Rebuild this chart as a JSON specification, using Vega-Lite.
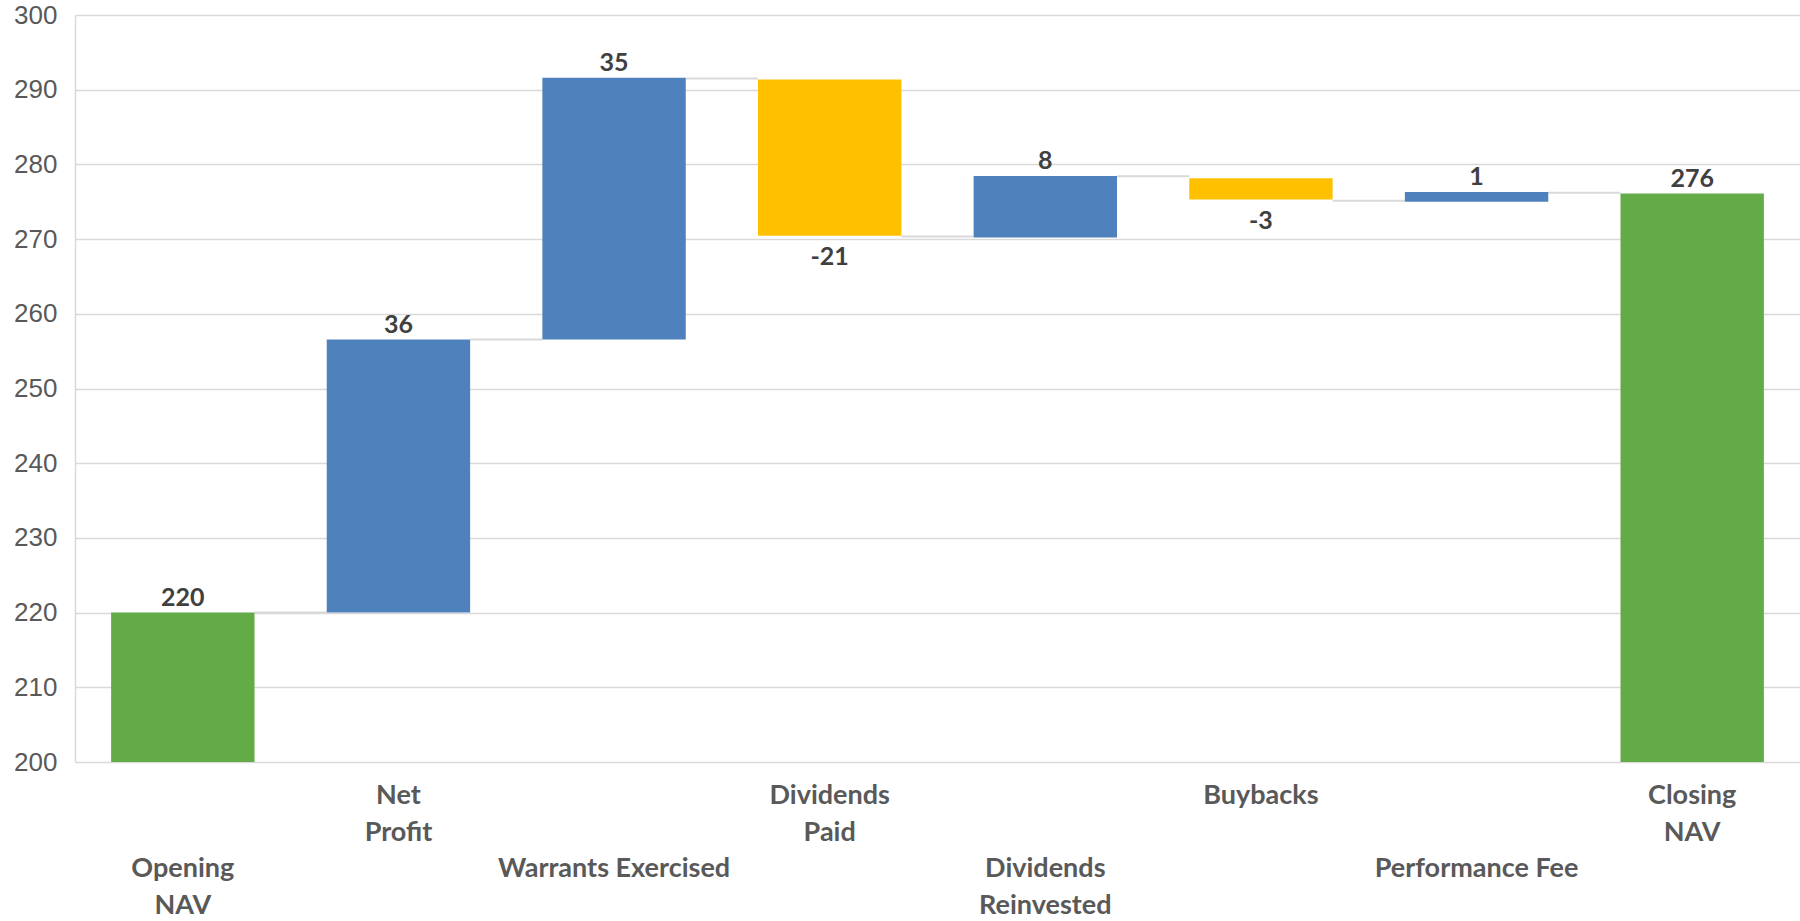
{
  "$schema": "https://vega.github.io/schema/vega-lite/v6.json",
  "width": 1725,
  "height": 747,
  "autosize": {"type": "none"},
  "padding": {"left": 75, "top": 15, "right": 0, "bottom": 159},
  "background": "white",
  "config": {"view": {"stroke": null}},
  "datasets": {
    "bars": [
      {"cat": "Opening NAV", "start": 0, "end": 220, "label": "220", "type": "total"},
      {"cat": "Net Profit", "start": 220, "end": 256.55, "label": "36", "type": "increase"},
      {"cat": "Warrants Exercised", "start": 256.55, "end": 291.6, "label": "35", "type": "increase"},
      {"cat": "Dividends Paid", "start": 291.35, "end": 270.45, "label": "-21", "type": "decrease"},
      {"cat": "Dividends Reinvested", "start": 270.2, "end": 278.45, "label": "8", "type": "increase"},
      {"cat": "Buybacks", "start": 278.15, "end": 275.3, "label": "-3", "type": "decrease"},
      {"cat": "Performance Fee", "start": 275.0, "end": 276.3, "label": "1", "type": "increase"},
      {"cat": "Closing NAV", "start": 0, "end": 276.1, "label": "276", "type": "total"}
    ],
    "links": [
      {"from": "Opening NAV", "to": "Net Profit", "level": 220},
      {"from": "Net Profit", "to": "Warrants Exercised", "level": 256.55},
      {"from": "Warrants Exercised", "to": "Dividends Paid", "level": 291.5},
      {"from": "Dividends Paid", "to": "Dividends Reinvested", "level": 270.35},
      {"from": "Dividends Reinvested", "to": "Buybacks", "level": 278.4},
      {"from": "Buybacks", "to": "Performance Fee", "level": 275.15},
      {"from": "Performance Fee", "to": "Closing NAV", "level": 276.2}
    ]
  },
  "layer": [
    {
      "data": {"name": "links"},
      "mark": {"type": "rule", "color": "#D9D9D9", "strokeWidth": 2},
      "encoding": {
        "x": {"field": "from", "type": "nominal", "bandPosition": 1,
          "scale": {"domain": ["Opening NAV", "Net Profit", "Warrants Exercised", "Dividends Paid", "Dividends Reinvested", "Buybacks", "Performance Fee", "Closing NAV"], "paddingInner": 0.335, "paddingOuter": 0.1675},
          "axis": {
            "title": null, "domain": false, "ticks": false, "labelAngle": 0,
            "labelOverlap": false, "labelBound": false, "labelFlush": false, "labelLimit": 500,
            "labelPadding": {"condition": {"test": "indexof(['Opening NAV', 'Warrants Exercised', 'Dividends Reinvested', 'Performance Fee'], datum.value) >= 0", "value": 93}, "value": 20},
            "labelLineHeight": 37, "labelFontSize": 27,
            "labelFont": "Lato", "labelFontWeight": "bold", "labelColor": "#595959",
            "labelExpr": "datum.value == 'Opening NAV' ? ['Opening', 'NAV'] : datum.value == 'Net Profit' ? ['Net', 'Profit'] : datum.value == 'Dividends Paid' ? ['Dividends', 'Paid'] : datum.value == 'Dividends Reinvested' ? ['Dividends', 'Reinvested'] : datum.value == 'Closing NAV' ? ['Closing', 'NAV'] : datum.value"
          }
        },
        "x2": {"field": "to", "bandPosition": 0},
        "y": {"field": "level", "type": "quantitative",
          "scale": {"domain": [200, 300], "nice": false, "zero": false},
          "axis": {
            "title": null, "values": [200, 210, 220, 230, 240, 250, 260, 270, 280, 290, 300],
            "grid": true, "gridColor": "#D9D9D9", "gridWidth": 1.5,
            "domain": true, "domainColor": "#D9D9D9", "domainWidth": 1.5,
            "ticks": false, "labelPadding": 18, "labelFontSize": 26,
            "labelFont": "Liberation Sans", "labelColor": "#595959"
          }
        }
      }
    },
    {
      "data": {"name": "bars"},
      "mark": {"type": "bar", "clip": true},
      "encoding": {
        "x": {"field": "cat", "type": "nominal"},
        "y": {"field": "end", "type": "quantitative"},
        "y2": {"field": "start"},
        "color": {"field": "type", "type": "nominal", "legend": null,
          "scale": {"domain": ["total", "increase", "decrease"], "range": ["#62AB46", "#4F81BD", "#FFC000"]}}
      }
    },
    {
      "data": {"name": "bars"},
      "transform": [{"filter": "datum.type != 'decrease'"}],
      "mark": {"type": "text", "baseline": "alphabetic", "dy": -7, "font": "Lato", "fontWeight": "bold", "fontSize": 25, "color": "#404040"},
      "encoding": {
        "x": {"field": "cat", "type": "nominal"},
        "y": {"field": "end", "type": "quantitative"},
        "text": {"field": "label"}
      }
    },
    {
      "data": {"name": "bars"},
      "transform": [{"filter": "datum.type == 'decrease'"}],
      "mark": {"type": "text", "baseline": "top", "dy": 9, "font": "Lato", "fontWeight": "bold", "fontSize": 25, "color": "#404040"},
      "encoding": {
        "x": {"field": "cat", "type": "nominal"},
        "y": {"field": "end", "type": "quantitative"},
        "text": {"field": "label"}
      }
    }
  ]
}
